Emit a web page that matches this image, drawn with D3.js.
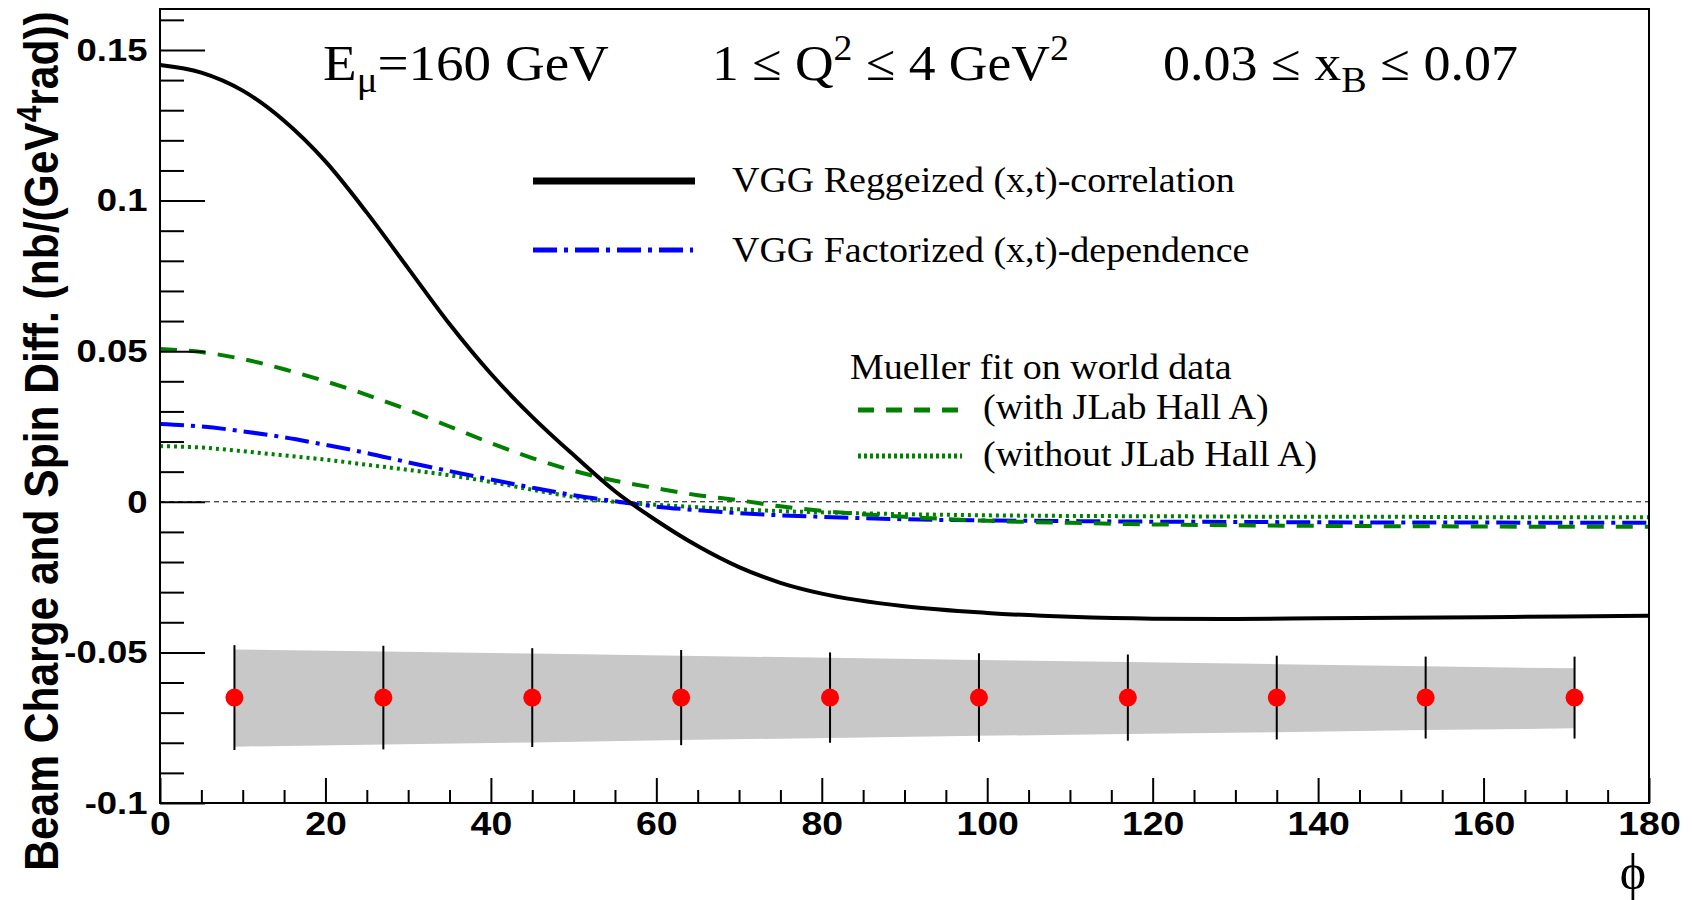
<!DOCTYPE html>
<html>
<head>
<meta charset="utf-8">
<script src="https://cdn.jsdelivr.net/npm/d3@7"></script>
<style>
  body { margin: 0; background: #fff; }
  svg { display: block; }
</style>
</head>
<body>
<div id="chart"></div>
<script>
// values
var phi = [0, 5, 10, 15, 20, 25, 30, 35, 40, 45, 50, 55, 60, 65, 70, 75, 80, 90, 100, 110, 120, 130, 140, 150, 160, 170, 180];

var vggRegge = [0.1450, 0.1425, 0.1365, 0.1265, 0.1130, 0.0960, 0.0775, 0.0590, 0.0425, 0.0282, 0.0155, 0.0035, -0.0062, -0.0147, -0.0217, -0.0269, -0.0305, -0.0347, -0.0369, -0.0382, -0.0388, -0.0389, -0.0387, -0.0385, -0.0383, -0.0381, -0.0378];
var vggFact = [0.0258, 0.0250, 0.0234, 0.0214, 0.0189, 0.0162, 0.0131, 0.0102, 0.0074, 0.0047, 0.0022, 0.0002, -0.0016, -0.0028, -0.0038, -0.0045, -0.0050, -0.0058, -0.0062, -0.0064, -0.0066, -0.0067, -0.0068, -0.0069, -0.0069, -0.0070, -0.0070];
var muellerWith = [0.0507, 0.0497, 0.0474, 0.0440, 0.0400, 0.0355, 0.0305, 0.0250, 0.0195, 0.0145, 0.0103, 0.0070, 0.0045, 0.0022, 0.0005, -0.0015, -0.0030, -0.0050, -0.0063, -0.0070, -0.0075, -0.0078, -0.0080, -0.0081, -0.0082, -0.0083, -0.0083];
var muellerWithout = [0.0185, 0.0180, 0.0168, 0.0154, 0.0140, 0.0123, 0.0106, 0.0088, 0.0066, 0.0040, 0.0016, 0.0000, -0.0010, -0.0018, -0.0025, -0.0031, -0.0035, -0.0041, -0.0045, -0.0047, -0.0048, -0.0049, -0.0050, -0.0050, -0.0051, -0.0051, -0.0051];

// projected points
var ptPhi = [9, 27, 45, 63, 81, 99, 117, 135, 153, 171];
var ptVal = [-0.065, -0.065, -0.065, -0.065, -0.065, -0.065, -0.065, -0.065, -0.065, -0.065];
var ptErr = [0.0174, 0.0172, 0.0164, 0.0158, 0.0150, 0.0147, 0.0143, 0.0139, 0.0136, 0.0136];
var bandHi = [-0.0490, -0.0497, -0.0504, -0.0511, -0.0518, -0.0525, -0.0532, -0.0539, -0.0546, -0.0553];
var bandLo = [-0.0813, -0.0806, -0.0799, -0.0791, -0.0784, -0.0777, -0.0771, -0.0765, -0.0758, -0.0752];

var xMajor = [0, 20, 40, 60, 80, 100, 120, 140, 160, 180];
var xTickLabels = ["0", "20", "40", "60", "80", "100", "120", "140", "160", "180"];
var yMajor = [-0.1, -0.05, 0, 0.05, 0.1, 0.15];
var yTickLabels = ["-0.1", "-0.05", "0", "0.05", "0.1", "0.15"];

var width = 1693, height = 900;
var serif = "'Liberation Serif', 'Times New Roman', serif";
var sans = "'Liberation Sans', Arial, Helvetica, sans-serif";

var x = d3.scaleLinear().domain([0, 180]).range([160, 1649]);
var y = d3.scaleLinear().domain([-0.1, 0.1636]).range([803, 9]);

var svg = d3.select("#chart").append("svg")
    .attr("width", width)
    .attr("height", height);

//////////////////// band + points ////////////////////
var band = d3.area()
    .x(function (d, i) { return x(ptPhi[i]); })
    .y0(function (d, i) { return y(bandLo[i]); })
    .y1(function (d, i) { return y(bandHi[i]); });

svg.append("path")
    .datum(ptPhi)
    .attr("d", band)
    .attr("fill", "#c8c8c8");

//zero line
svg.append("line")
    .attr("x1", x(0)).attr("x2", x(180))
    .attr("y1", y(0)).attr("y2", y(0))
    .attr("stroke", "#000")
    .attr("stroke-width", 1)
    .attr("stroke-dasharray", "5,4");

//////////////////// curves ////////////////////
function curve(vals) {
  return d3.line()
    .x(function (d, i) { return x(phi[i]); })
    .y(function (d) { return y(d); })
    .curve(d3.curveMonotoneX)(vals);
}

var series = [
  { vals: muellerWithout, color: "#008000", dash: "3,4", w: 4 },
  { vals: vggFact, color: "#0000ff", dash: "24,7,4,7", w: 4 },
  { vals: muellerWith, color: "#008000", dash: "17,12", w: 4 },
  { vals: vggRegge, color: "#000000", dash: null, w: 4 }
];

svg.append("g").selectAll("path")
    .data(series)
    .enter().append("path")
    .attr("d", function (d) { return curve(d.vals); })
    .attr("fill", "none")
    .attr("stroke", function (d) { return d.color; })
    .attr("stroke-width", function (d) { return d.w; })
    .attr("stroke-dasharray", function (d) { return d.dash; });

//error bars
svg.append("g").selectAll("line")
    .data(ptPhi)
    .enter().append("line")
    .attr("x1", function (d) { return x(d); })
    .attr("x2", function (d) { return x(d); })
    .attr("y1", function (d, i) { return y(ptVal[i] + ptErr[i]); })
    .attr("y2", function (d, i) { return y(ptVal[i] - ptErr[i]); })
    .attr("stroke", "#000")
    .attr("stroke-width", 2);

svg.append("g").selectAll("circle")
    .data(ptPhi)
    .enter().append("circle")
    .attr("cx", function (d) { return x(d); })
    .attr("cy", function (d, i) { return y(ptVal[i]); })
    .attr("r", 9)
    .attr("fill", "#ff0000");

//////////////////// axes + frame ////////////////////
var xMinor = d3.range(0, 181, 5).filter(function (v) { return v % 20 !== 0; });
var yMinor = d3.range(-10, 17, 1).map(function (v) { return v / 100; })
    .filter(function (v) { return Math.round(v * 100) % 5 !== 0; });

function styleAxis(g, size) {
  g.select(".domain").remove();
  g.selectAll("line").attr("stroke", "#000").attr("stroke-width", 2);
  g.selectAll("text")
    .attr("font-family", sans)
    .attr("font-size", size)
    .attr("font-weight", "bold")
    .attr("fill", "#000");
}

svg.append("g")
    .attr("transform", "translate(0," + y(-0.1) + ")")
    .call(d3.axisBottom(x).tickValues(xMinor).tickSizeInner(-13).tickSizeOuter(0).tickFormat(""))
    .call(styleAxis, 0);

svg.append("g")
    .attr("transform", "translate(0," + y(-0.1) + ")")
    .call(d3.axisBottom(x).tickValues(xMajor).tickSizeInner(-25).tickSizeOuter(0).tickPadding(8)
      .tickFormat(function (d, i) { return xTickLabels[i]; }))
    .call(styleAxis, 34)
    .selectAll("text").attr("transform", "scale(1.1,1)");

svg.append("g")
    .attr("transform", "translate(" + x(0) + ",0)")
    .call(d3.axisLeft(y).tickValues(yMinor).tickSizeInner(-24).tickSizeOuter(0).tickFormat(""))
    .call(styleAxis, 0);

svg.append("g")
    .attr("transform", "translate(" + x(0) + ",0)")
    .call(d3.axisLeft(y).tickValues(yMajor).tickSizeInner(-45).tickSizeOuter(0).tickPadding(11)
      .tickFormat(function (d, i) { return yTickLabels[i]; }))
    .call(styleAxis, 32)
    .selectAll("text").attr("transform", "scale(1.14,1)");

svg.append("rect")
    .attr("x", x(0)).attr("y", y(0.1636))
    .attr("width", x(180) - x(0))
    .attr("height", y(-0.1) - y(0.1636))
    .attr("fill", "none")
    .attr("stroke", "#000")
    .attr("stroke-width", 2);

//////////////////// axis titles ////////////////////
var yTitle = svg.append("text")
    .attr("transform", "translate(58,441) rotate(-90) scale(1,1.14)")
    .attr("text-anchor", "middle")
    .attr("font-family", sans)
    .attr("font-weight", "bold")
    .attr("font-size", 42.5);
yTitle.append("tspan").text("Beam Charge and Spin Diff. (nb/(GeV");
yTitle.append("tspan").attr("dy", -15).attr("font-size", 30).text("4");
yTitle.append("tspan").attr("dy", 15).text("rad))");

svg.append("text")
    .attr("x", 1633).attr("y", 889)
    .attr("text-anchor", "middle")
    .attr("font-family", serif)
    .attr("font-size", 50)
    .text("ϕ");

//////////////////// header text ////////////////////
function header(xp, sx, parts) {
  var t = svg.append("text")
      .attr("transform", "translate(" + xp + ",80) scale(" + sx + ",1)")
      .attr("font-family", serif)
      .attr("font-size", 51)
      .attr("fill", "#000");
  parts.forEach(function (p) {
    var s = t.append("tspan").text(p[0]);
    if (p[1] === "sub") s.attr("dy", 12).attr("font-size", 36);
    if (p[1] === "sup") s.attr("dy", -20).attr("font-size", 36);
    if (p[1] === "back-sub") s.attr("dy", -12);
    if (p[1] === "back-sup") s.attr("dy", 20);
  });
}
header(323, 1.08, [["E"], ["μ", "sub"], ["=160 GeV", "back-sub"]]);
header(712, 1.05, [["1 ≤ Q"], ["2", "sup"], [" ≤ 4 GeV", "back-sup"], ["2", "sup"]]);
header(1163, 1.06, [["0.03 ≤ x"], ["B", "sub"], [" ≤ 0.07", "back-sub"]]);

//////////////////// legend ////////////////////
var legendLines = [
  { x1: 533, x2: 695, y: 181, color: "#000", dash: null, w: 7 },
  { x1: 533, x2: 693, y: 250, color: "#0000ff", dash: "24,7,4,7", w: 5 },
  { x1: 858, x2: 964, y: 410, color: "#008000", dash: "16,12", w: 5 },
  { x1: 858, x2: 962, y: 456, color: "#008000", dash: "3,3", w: 5 }
];
svg.append("g").selectAll("line")
    .data(legendLines)
    .enter().append("line")
    .attr("x1", function (d) { return d.x1; })
    .attr("x2", function (d) { return d.x2; })
    .attr("y1", function (d) { return d.y; })
    .attr("y2", function (d) { return d.y; })
    .attr("stroke", function (d) { return d.color; })
    .attr("stroke-width", function (d) { return d.w; })
    .attr("stroke-dasharray", function (d) { return d.dash; });

var legendText = [
  { x: 732, y: 192, t: "VGG Reggeized (x,t)-correlation" },
  { x: 732, y: 262, t: "VGG Factorized (x,t)-dependence" },
  { x: 850, y: 379, t: "Mueller fit on world data" },
  { x: 983, y: 419, t: "(with JLab Hall A)" },
  { x: 983, y: 466, t: "(without JLab Hall A)" }
];
svg.append("g").selectAll("text")
    .data(legendText)
    .enter().append("text")
    .attr("transform", function (d) { return "translate(" + d.x + "," + d.y + ") scale(1.085,1)"; })
    .attr("font-family", serif)
    .attr("font-size", 35)
    .attr("fill", "#000")
    .text(function (d) { return d.t; });
</script>
</body>
</html>
